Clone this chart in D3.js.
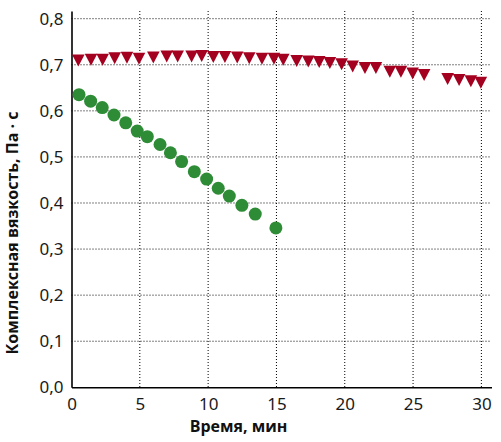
<!DOCTYPE html>
<html>
<head>
<meta charset="utf-8">
<script src="https://cdn.jsdelivr.net/npm/d3@7"></script>
<style>
  body { margin: 0; background: #fff; }
  .tick-label { font-family: "Noto Sans", sans-serif; font-size: 17px; fill: #1a1a1a; }
  .axis-title { font-family: "Open Sans", sans-serif; font-weight: bold; font-size: 16px; fill: #111; }
</style>
</head>
<body>
<svg id="chart" width="501" height="442"></svg>
<script>
// time (min) and complex viscosity (Pa·s) for the two samples
const circleTime = [0.55, 1.4, 2.25, 3.11, 3.97, 4.81, 5.55, 6.48, 7.24, 8.06, 8.99, 9.89, 10.74, 11.55, 12.47, 13.45, 14.96];
const circleVisc = [0.635, 0.621, 0.607, 0.591, 0.574, 0.556, 0.544, 0.527, 0.509, 0.49, 0.468, 0.452, 0.432, 0.415, 0.395, 0.376, 0.346];

const triTime = [0.5, 1.43, 2.28, 3.16, 4.06, 4.94, 5.99, 6.97, 7.77, 8.79, 9.53, 10.38, 11.23, 12.13, 13.01, 13.94, 14.82,
  15.5, 16.48, 17.33, 18.13, 18.91, 19.77, 20.58, 21.48, 22.28, 23.3, 24.11, 24.97, 25.81, 27.53, 28.37, 29.23, 29.96];
const triVisc = [0.709, 0.711, 0.711, 0.714, 0.715, 0.713, 0.716, 0.718, 0.718, 0.718, 0.719, 0.717, 0.717, 0.716, 0.714, 0.713, 0.713,
  0.711, 0.708, 0.707, 0.706, 0.704, 0.701, 0.696, 0.693, 0.693, 0.685, 0.685, 0.681, 0.678, 0.669, 0.667, 0.664, 0.661];

const xTicks = [0, 5, 10, 15, 20, 25, 30];
const yTicks = [0, 0.1, 0.2, 0.3, 0.4, 0.5, 0.6, 0.7, 0.8];

const margin = {left: 71.5, top: 11, right: 9.5, bottom: 54.7};
const svg = d3.select('#chart');
const W = +svg.attr('width'), H = +svg.attr('height');
const w = W - margin.left - margin.right;
const h = H - margin.top - margin.bottom;

const x = d3.scaleLinear().domain([0, 30.74]).range([0, w]);
const y = d3.scaleLinear().domain([0, 0.8167]).range([h, 0]);

const g = svg.append('g').attr('transform', `translate(${margin.left},${margin.top})`);

// dotted grid
g.selectAll('.vgrid').data(xTicks.filter(d => d > 0)).enter().append('line')
  .attr('x1', d => x(d)).attr('x2', d => x(d))
  .attr('y1', 0).attr('y2', h)
  .attr('stroke', '#000').attr('stroke-width', 1).attr('stroke-dasharray', '1,2');
g.selectAll('.hgrid').data(yTicks.filter(d => d > 0)).enter().append('line')
  .attr('x1', 0).attr('x2', w)
  .attr('y1', d => y(d)).attr('y2', d => y(d))
  .attr('stroke', '#000').attr('stroke-width', 1).attr('stroke-dasharray', '1,2');

// axes
const xAxis = g.append('g').attr('transform', `translate(0,${h})`)
  .call(d3.axisBottom(x).tickValues(xTicks).tickSize(0).tickPadding(11).tickFormat(d3.format('d')));
const yAxis = g.append('g')
  .call(d3.axisLeft(y).tickValues(yTicks).tickSize(0).tickPadding(8).tickFormat(d => d.toFixed(1).replace('.', ',')));
[xAxis, yAxis].forEach(a => {
  a.select('.domain').attr('stroke', '#000').attr('stroke-width', 1.6);
  a.selectAll('text').attr('class', 'tick-label').attr('fill', null).attr('font-family', null).attr('font-size', null);
});

// series
const tri = 'M-6.3,-6L6.3,-6L0,6Z';
g.selectAll('.tri').data(triTime).enter().append('path')
  .attr('d', tri)
  .attr('transform', (d, i) => `translate(${x(d)},${y(triVisc[i])})`)
  .attr('fill', '#a4001f');

g.selectAll('.dot').data(circleTime).enter().append('circle')
  .attr('cx', d => x(d))
  .attr('cy', (d, i) => y(circleVisc[i]))
  .attr('r', 6.5)
  .attr('fill', '#2e8c36');

// titles
svg.append('text').attr('class', 'axis-title')
  .attr('x', 238.5).attr('y', 432).attr('text-anchor', 'middle')
  .text('Время, мин');
svg.append('text').attr('class', 'axis-title')
  .attr('transform', 'translate(18,233) rotate(-90)')
  .attr('text-anchor', 'middle')
  .text('Комплексная вязкость, Па · с');
</script>
</body>
</html>
